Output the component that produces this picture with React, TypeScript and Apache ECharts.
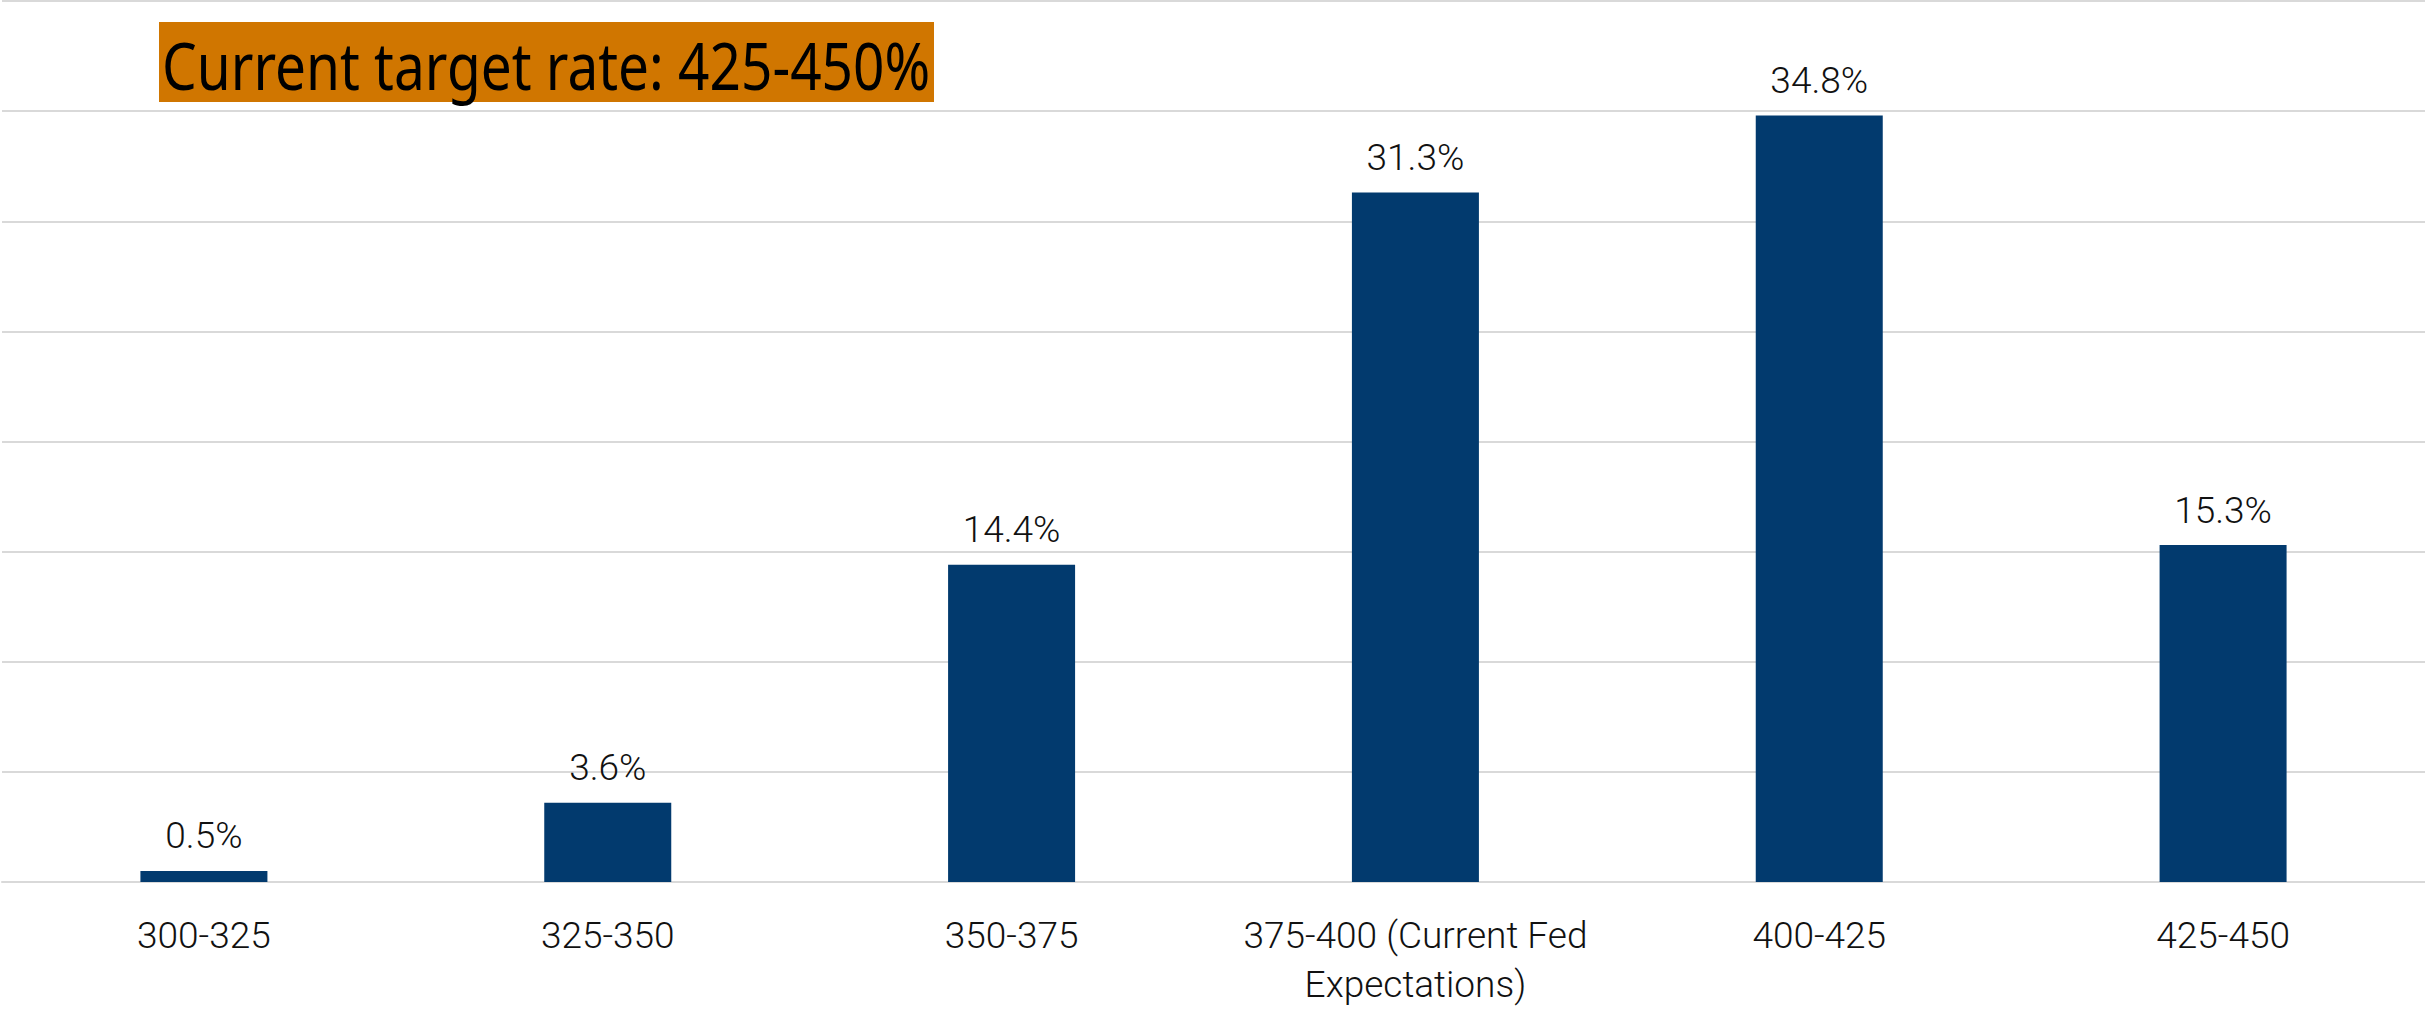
import React, { useEffect, useRef } from "react";
import * as echarts from "echarts";

const categories = [
  "300-325",
  "325-350",
  "350-375",
  "375-400 (Current Fed\nExpectations)",
  "400-425",
  "425-450",
];
const probabilities = [0.5, 3.6, 14.4, 31.3, 34.8, 15.3];
const titleText = "Current target rate: 425-450%";

const W = 2425;
const H = 1009;

export default function App() {
  const ref = useRef<HTMLDivElement>(null);
  useEffect(() => {
    if (!ref.current) return;
    const chart = echarts.init(ref.current, undefined, { renderer: "svg" });

    const titleFont = 66;
    const titleFamily = "'Noto Sans'";
    let scaleX = 0.78;
    try {
      const c = document.createElement("canvas").getContext("2d");
      if (c) {
        c.font = `${titleFont}px ${titleFamily}`;
        const w = c.measureText(titleText).width;
        if (w > 0) scaleX = 768 / w;
      }
    } catch (e) {}

    chart.setOption({
      animation: false,
      grid: { left: 2, right: 0, top: 1, bottom: 126 },
      xAxis: {
        type: "category",
        data: categories,
        axisLine: { show: true, lineStyle: { color: "#D9D9D9", width: 2 } },
        axisTick: { show: false },
        axisLabel: {
          color: "#111",
          fontFamily: "Roboto",
          fontWeight: 300,
          fontSize: 37,
          lineHeight: 49,
          margin: 29,
          interval: 0,
        },
      },
      yAxis: {
        type: "value",
        min: 0,
        max: 40,
        interval: 5,
        axisLabel: { show: false },
        axisLine: { show: false },
        axisTick: { show: false },
        splitLine: { show: true, lineStyle: { color: "#D9D9D9", width: 2 } },
      },
      series: [
        {
          type: "bar",
          data: probabilities,
          barWidth: 127,
          itemStyle: { color: "#023A6E" },
          label: {
            show: true,
            position: "top",
            distance: 15,
            color: "#111",
            fontFamily: "Roboto",
            fontWeight: 300,
            fontSize: 37,
            lineHeight: 40,
            formatter: (p: any) => `${p.value.toFixed(1)}%`,
          },
        },
      ],
      graphic: [
        {
          type: "rect",
          shape: { x: 159, y: 22, width: 775, height: 80 },
          style: { fill: "#D07600" },
          z: 10,
        },
        {
          type: "text",
          x: 162,
          y: 64,
          scaleX: scaleX,
          z: 11,
          style: {
            text: titleText,
            fill: "#000",
            font: `${titleFont}px ${titleFamily}`,
            textVerticalAlign: "middle",
            verticalAlign: "middle",
          },
        },
      ],
    });
    return () => chart.dispose();
  }, []);
  return (
    <div
      ref={ref}
      style={{ position: "absolute", left: 0, top: 0, width: W, height: H }}
    />
  );
}
